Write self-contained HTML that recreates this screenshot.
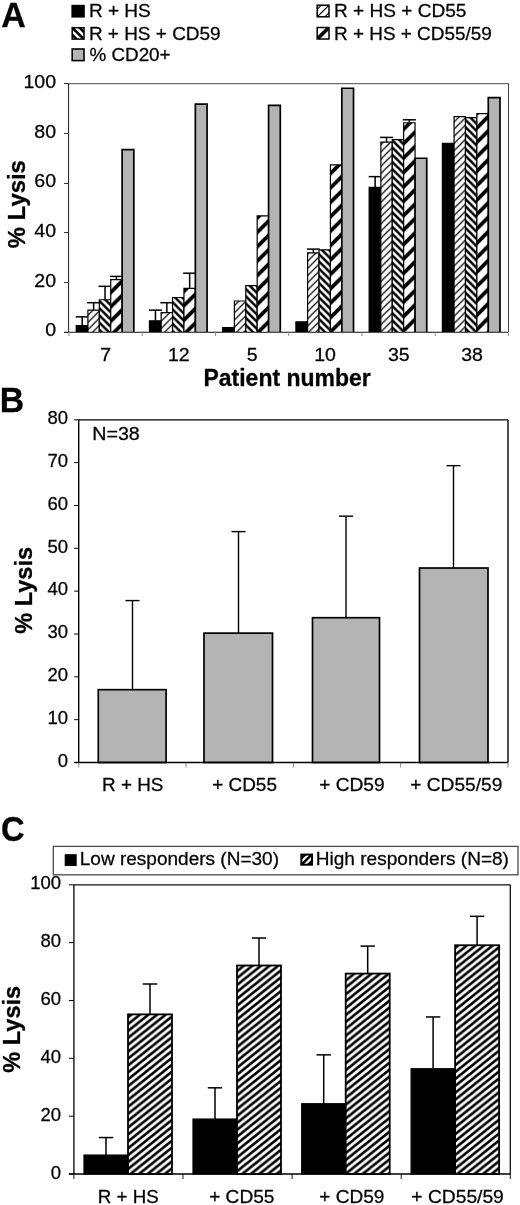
<!DOCTYPE html>
<html lang="en"><head><meta charset="utf-8"><title>Figure</title>
<style>html,body{margin:0;padding:0;background:#fff;}svg{display:block;font-family:'Liberation Sans', Arial, Helvetica, sans-serif;}</style>
</head><body>
<svg width="520" height="1205" viewBox="0 0 520 1205">
<defs>
<pattern id="p55" patternUnits="userSpaceOnUse" width="7.2" height="7.2"><rect width="7.2" height="7.2" fill="#fff"/><path d="M-1.8,1.8 L1.8,-1.8 M-1,8.2 L8.2,-1 M5.4,9 L9,5.4" stroke="#000" stroke-width="1.25" fill="none"/></pattern>
<pattern id="p59" patternUnits="userSpaceOnUse" width="7.2" height="7.2"><rect width="7.2" height="7.2" fill="#fff"/><path d="M-1,-1 L8.2,8.2 M-2.8,4.4 L2.8,10 M4.4,-2.8 L10,2.8" stroke="#000" stroke-width="2.5" fill="none"/></pattern>
<pattern id="p5559" patternUnits="userSpaceOnUse" width="14.4" height="14.4"><rect width="14.4" height="14.4" fill="#fff"/><path d="M-4,4 L4,-4 M-2,16.4 L16.4,-2 M10.4,18.4 L18.4,10.4" stroke="#000" stroke-width="3.8" fill="none"/></pattern>
<pattern id="pC" patternUnits="userSpaceOnUse" width="8.6" height="6.9" x="0.8" y="1.5"><rect width="8.6" height="6.9" fill="#fff"/><path d="M-4.3,3.45 L4.3,-3.45 M-2.15,8.625 L10.75,-1.725 M4.3,10.350000000000001 L12.899999999999999,3.45" stroke="#000" stroke-width="2.55" fill="none"/></pattern>
</defs>
<rect width="520" height="1205" fill="#fff"/>
<rect x="72.00" y="5.40" width="12.20" height="11.60" fill="#000" stroke="#000" stroke-width="1.2"/>
<clipPath id="cl1"><rect x="72.20" y="27.70" width="11.80" height="11.40"/></clipPath>
<rect x="72.20" y="27.70" width="11.80" height="11.40" fill="#fff"/>
<g clip-path="url(#cl1)" stroke="#000" stroke-width="2.6">
<line x1="50.90" y1="13.40" x2="90.90" y2="53.40"/>
<line x1="58.10" y1="13.40" x2="98.10" y2="53.40"/>
<line x1="65.30" y1="13.40" x2="105.30" y2="53.40"/>
</g>
<rect x="72.20" y="27.70" width="11.80" height="11.40" fill="none" stroke="#000" stroke-width="1.5"/>
<rect x="72.20" y="49.00" width="11.80" height="11.60" fill="#b4b4b4" stroke="#000" stroke-width="1.6"/>
<clipPath id="cl2"><rect x="317.20" y="5.20" width="11.80" height="11.60"/></clipPath>
<rect x="317.20" y="5.20" width="11.80" height="11.60" fill="#fff"/>
<g clip-path="url(#cl2)" stroke="#000" stroke-width="1.1">
<line x1="295.50" y1="31.00" x2="335.50" y2="-9.00"/>
<line x1="303.10" y1="31.00" x2="343.10" y2="-9.00"/>
<line x1="310.70" y1="31.00" x2="350.70" y2="-9.00"/>
</g>
<rect x="317.20" y="5.20" width="11.80" height="11.60" fill="none" stroke="#000" stroke-width="1.5"/>
<clipPath id="cl3"><rect x="317.20" y="27.50" width="11.80" height="11.50"/></clipPath>
<rect x="317.20" y="27.50" width="11.80" height="11.50" fill="#fff"/>
<g clip-path="url(#cl3)" stroke="#000" stroke-width="3.6">
<line x1="303.10" y1="53.25" x2="343.10" y2="13.25"/>
</g>
<rect x="317.20" y="27.50" width="11.80" height="11.50" fill="none" stroke="#000" stroke-width="1.5"/>
<line x1="69.00" y1="83.70" x2="509.00" y2="83.70" stroke="#4a4a4a" stroke-width="1.0"/>
<line x1="508.50" y1="83.80" x2="508.50" y2="332.00" stroke="#4a4a4a" stroke-width="1.0"/>
<line x1="82.22" y1="316.86" x2="82.22" y2="325.55" stroke="#000" stroke-width="1.5"/>
<line x1="75.72" y1="316.86" x2="88.72" y2="316.86" stroke="#000" stroke-width="1.5"/>
<line x1="93.62" y1="302.71" x2="93.62" y2="310.16" stroke="#000" stroke-width="1.5"/>
<line x1="87.12" y1="302.71" x2="100.12" y2="302.71" stroke="#000" stroke-width="1.5"/>
<line x1="105.02" y1="286.33" x2="105.02" y2="299.73" stroke="#000" stroke-width="1.5"/>
<line x1="98.52" y1="286.33" x2="111.52" y2="286.33" stroke="#000" stroke-width="1.5"/>
<line x1="116.42" y1="276.40" x2="116.42" y2="279.63" stroke="#000" stroke-width="1.5"/>
<line x1="109.92" y1="276.40" x2="122.92" y2="276.40" stroke="#000" stroke-width="1.5"/>
<rect x="76.22" y="325.55" width="11.70" height="6.45" fill="#000"/>
<path d="M76.22,332.00 L76.22,325.55 L87.92,325.55 L87.92,332.00" fill="none" stroke="#000" stroke-width="1.2"/>
<rect x="87.92" y="310.16" width="11.40" height="21.84" fill="url(#p55)"/>
<path d="M87.92,332.00 L87.92,310.16 L99.32,310.16 L99.32,332.00" fill="none" stroke="#000" stroke-width="1.2"/>
<rect x="99.32" y="299.73" width="11.40" height="32.27" fill="url(#p59)"/>
<path d="M99.32,332.00 L99.32,299.73 L110.72,299.73 L110.72,332.00" fill="none" stroke="#000" stroke-width="1.2"/>
<rect x="110.72" y="279.63" width="11.40" height="52.37" fill="url(#p5559)"/>
<path d="M110.72,332.00 L110.72,279.63 L122.12,279.63 L122.12,332.00" fill="none" stroke="#000" stroke-width="1.2"/>
<rect x="122.12" y="149.57" width="11.70" height="182.43" fill="#b4b4b4"/>
<path d="M122.12,332.00 L122.12,149.57 L133.82,149.57 L133.82,332.00" fill="none" stroke="#000" stroke-width="1.7"/>
<line x1="155.45" y1="310.16" x2="155.45" y2="320.83" stroke="#000" stroke-width="1.5"/>
<line x1="148.95" y1="310.16" x2="161.95" y2="310.16" stroke="#000" stroke-width="1.5"/>
<line x1="166.85" y1="302.71" x2="166.85" y2="312.64" stroke="#000" stroke-width="1.5"/>
<line x1="160.35" y1="302.71" x2="173.35" y2="302.71" stroke="#000" stroke-width="1.5"/>
<line x1="189.65" y1="273.18" x2="189.65" y2="288.32" stroke="#000" stroke-width="1.5"/>
<line x1="183.15" y1="273.18" x2="196.15" y2="273.18" stroke="#000" stroke-width="1.5"/>
<rect x="149.45" y="320.83" width="11.70" height="11.17" fill="#000"/>
<path d="M149.45,332.00 L149.45,320.83 L161.15,320.83 L161.15,332.00" fill="none" stroke="#000" stroke-width="1.2"/>
<rect x="161.15" y="312.64" width="11.40" height="19.36" fill="url(#p55)"/>
<path d="M161.15,332.00 L161.15,312.64 L172.55,312.64 L172.55,332.00" fill="none" stroke="#000" stroke-width="1.2"/>
<rect x="172.55" y="297.50" width="11.40" height="34.50" fill="url(#p59)"/>
<path d="M172.55,332.00 L172.55,297.50 L183.95,297.50 L183.95,332.00" fill="none" stroke="#000" stroke-width="1.2"/>
<rect x="183.95" y="288.32" width="11.40" height="43.68" fill="url(#p5559)"/>
<path d="M183.95,332.00 L183.95,288.32 L195.35,288.32 L195.35,332.00" fill="none" stroke="#000" stroke-width="1.2"/>
<rect x="195.35" y="104.15" width="11.70" height="227.85" fill="#b4b4b4"/>
<path d="M195.35,332.00 L195.35,104.15 L207.05,104.15 L207.05,332.00" fill="none" stroke="#000" stroke-width="1.7"/>
<rect x="222.68" y="327.53" width="11.70" height="4.47" fill="#000"/>
<path d="M222.68,332.00 L222.68,327.53 L234.38,327.53 L234.38,332.00" fill="none" stroke="#000" stroke-width="1.2"/>
<rect x="234.38" y="300.98" width="11.40" height="31.02" fill="url(#p55)"/>
<path d="M234.38,332.00 L234.38,300.98 L245.78,300.98 L245.78,332.00" fill="none" stroke="#000" stroke-width="1.2"/>
<rect x="245.78" y="285.59" width="11.40" height="46.41" fill="url(#p59)"/>
<path d="M245.78,332.00 L245.78,285.59 L257.18,285.59 L257.18,332.00" fill="none" stroke="#000" stroke-width="1.2"/>
<rect x="257.18" y="215.84" width="11.40" height="116.16" fill="url(#p5559)"/>
<path d="M257.18,332.00 L257.18,215.84 L268.58,215.84 L268.58,332.00" fill="none" stroke="#000" stroke-width="1.2"/>
<rect x="268.58" y="105.39" width="11.70" height="226.61" fill="#b4b4b4"/>
<path d="M268.58,332.00 L268.58,105.39 L280.28,105.39 L280.28,332.00" fill="none" stroke="#000" stroke-width="1.7"/>
<line x1="313.32" y1="249.10" x2="313.32" y2="252.82" stroke="#000" stroke-width="1.5"/>
<line x1="306.82" y1="249.10" x2="319.82" y2="249.10" stroke="#000" stroke-width="1.5"/>
<rect x="295.92" y="321.82" width="11.70" height="10.18" fill="#000"/>
<path d="M295.92,332.00 L295.92,321.82 L307.62,321.82 L307.62,332.00" fill="none" stroke="#000" stroke-width="1.2"/>
<rect x="307.62" y="252.82" width="11.40" height="79.18" fill="url(#p55)"/>
<path d="M307.62,332.00 L307.62,252.82 L319.02,252.82 L319.02,332.00" fill="none" stroke="#000" stroke-width="1.2"/>
<rect x="319.02" y="249.85" width="11.40" height="82.15" fill="url(#p59)"/>
<path d="M319.02,332.00 L319.02,249.85 L330.42,249.85 L330.42,332.00" fill="none" stroke="#000" stroke-width="1.2"/>
<rect x="330.42" y="164.96" width="11.40" height="167.04" fill="url(#p5559)"/>
<path d="M330.42,332.00 L330.42,164.96 L341.82,164.96 L341.82,332.00" fill="none" stroke="#000" stroke-width="1.2"/>
<rect x="341.82" y="88.27" width="11.70" height="243.73" fill="#b4b4b4"/>
<path d="M341.82,332.00 L341.82,88.27 L353.52,88.27 L353.52,332.00" fill="none" stroke="#000" stroke-width="1.7"/>
<line x1="375.15" y1="176.63" x2="375.15" y2="187.30" stroke="#000" stroke-width="1.5"/>
<line x1="368.65" y1="176.63" x2="381.65" y2="176.63" stroke="#000" stroke-width="1.5"/>
<line x1="386.55" y1="137.41" x2="386.55" y2="142.13" stroke="#000" stroke-width="1.5"/>
<line x1="380.05" y1="137.41" x2="393.05" y2="137.41" stroke="#000" stroke-width="1.5"/>
<line x1="409.35" y1="119.79" x2="409.35" y2="122.77" stroke="#000" stroke-width="1.5"/>
<line x1="402.85" y1="119.79" x2="415.85" y2="119.79" stroke="#000" stroke-width="1.5"/>
<rect x="369.15" y="187.30" width="11.70" height="144.70" fill="#000"/>
<path d="M369.15,332.00 L369.15,187.30 L380.85,187.30 L380.85,332.00" fill="none" stroke="#000" stroke-width="1.2"/>
<rect x="380.85" y="142.13" width="11.40" height="189.87" fill="url(#p55)"/>
<path d="M380.85,332.00 L380.85,142.13 L392.25,142.13 L392.25,332.00" fill="none" stroke="#000" stroke-width="1.2"/>
<rect x="392.25" y="139.65" width="11.40" height="192.35" fill="url(#p59)"/>
<path d="M392.25,332.00 L392.25,139.65 L403.65,139.65 L403.65,332.00" fill="none" stroke="#000" stroke-width="1.2"/>
<rect x="403.65" y="122.77" width="11.40" height="209.23" fill="url(#p5559)"/>
<path d="M403.65,332.00 L403.65,122.77 L415.05,122.77 L415.05,332.00" fill="none" stroke="#000" stroke-width="1.2"/>
<rect x="415.05" y="158.26" width="11.70" height="173.74" fill="#b4b4b4"/>
<path d="M415.05,332.00 L415.05,158.26 L426.75,158.26 L426.75,332.00" fill="none" stroke="#000" stroke-width="1.7"/>
<rect x="442.38" y="143.37" width="11.70" height="188.63" fill="#000"/>
<path d="M442.38,332.00 L442.38,143.37 L454.08,143.37 L454.08,332.00" fill="none" stroke="#000" stroke-width="1.2"/>
<rect x="454.08" y="116.56" width="11.40" height="215.44" fill="url(#p55)"/>
<path d="M454.08,332.00 L454.08,116.56 L465.48,116.56 L465.48,332.00" fill="none" stroke="#000" stroke-width="1.2"/>
<rect x="465.48" y="117.56" width="11.40" height="214.44" fill="url(#p59)"/>
<path d="M465.48,332.00 L465.48,117.56 L476.88,117.56 L476.88,332.00" fill="none" stroke="#000" stroke-width="1.2"/>
<rect x="476.88" y="113.58" width="11.40" height="218.42" fill="url(#p5559)"/>
<path d="M476.88,332.00 L476.88,113.58 L488.28,113.58 L488.28,332.00" fill="none" stroke="#000" stroke-width="1.2"/>
<rect x="488.28" y="97.70" width="11.70" height="234.30" fill="#b4b4b4"/>
<path d="M488.28,332.00 L488.28,97.70 L499.98,97.70 L499.98,332.00" fill="none" stroke="#000" stroke-width="1.7"/>
<line x1="68.60" y1="83.80" x2="68.60" y2="332.00" stroke="#1a1a1a" stroke-width="1.0"/>
<line x1="64.00" y1="332.30" x2="508.40" y2="332.30" stroke="#111" stroke-width="1.1"/>
<line x1="64.00" y1="332.50" x2="69.00" y2="332.50" stroke="#333" stroke-width="1.0"/>
<line x1="64.00" y1="282.50" x2="69.00" y2="282.50" stroke="#333" stroke-width="1.0"/>
<line x1="64.00" y1="232.50" x2="69.00" y2="232.50" stroke="#333" stroke-width="1.0"/>
<line x1="64.00" y1="183.50" x2="69.00" y2="183.50" stroke="#333" stroke-width="1.0"/>
<line x1="64.00" y1="133.50" x2="69.00" y2="133.50" stroke="#333" stroke-width="1.0"/>
<line x1="64.00" y1="83.50" x2="69.00" y2="83.50" stroke="#333" stroke-width="1.0"/>
<line x1="69.00" y1="332.00" x2="69.00" y2="336.00" stroke="#777" stroke-width="0.8"/>
<line x1="142.23" y1="332.00" x2="142.23" y2="336.00" stroke="#777" stroke-width="0.8"/>
<line x1="215.47" y1="332.00" x2="215.47" y2="336.00" stroke="#777" stroke-width="0.8"/>
<line x1="288.70" y1="332.00" x2="288.70" y2="336.00" stroke="#777" stroke-width="0.8"/>
<line x1="361.93" y1="332.00" x2="361.93" y2="336.00" stroke="#777" stroke-width="0.8"/>
<line x1="435.17" y1="332.00" x2="435.17" y2="336.00" stroke="#777" stroke-width="0.8"/>
<line x1="508.40" y1="332.00" x2="508.40" y2="336.00" stroke="#777" stroke-width="0.8"/>
<line x1="78.70" y1="419.80" x2="508.00" y2="419.80" stroke="#000" stroke-width="1.3"/>
<line x1="508.00" y1="419.80" x2="508.00" y2="762.50" stroke="#000" stroke-width="1.4"/>
<line x1="132.50" y1="600.57" x2="132.50" y2="689.68" stroke="#000" stroke-width="1.4"/>
<line x1="125.50" y1="600.57" x2="139.50" y2="600.57" stroke="#000" stroke-width="1.4"/>
<rect x="98.30" y="689.68" width="67.80" height="72.82" fill="#b4b4b4" stroke="#000" stroke-width="1.7"/>
<line x1="238.50" y1="531.61" x2="238.50" y2="633.13" stroke="#000" stroke-width="1.4"/>
<line x1="231.50" y1="531.61" x2="245.50" y2="531.61" stroke="#000" stroke-width="1.4"/>
<rect x="204.00" y="633.13" width="68.50" height="129.37" fill="#b4b4b4" stroke="#000" stroke-width="1.7"/>
<line x1="346.00" y1="516.18" x2="346.00" y2="617.71" stroke="#000" stroke-width="1.4"/>
<line x1="339.00" y1="516.18" x2="353.00" y2="516.18" stroke="#000" stroke-width="1.4"/>
<rect x="312.50" y="617.71" width="67.00" height="144.79" fill="#b4b4b4" stroke="#000" stroke-width="1.7"/>
<line x1="453.50" y1="465.64" x2="453.50" y2="568.02" stroke="#000" stroke-width="1.4"/>
<line x1="446.50" y1="465.64" x2="460.50" y2="465.64" stroke="#000" stroke-width="1.4"/>
<rect x="419.50" y="568.02" width="68.50" height="194.48" fill="#b4b4b4" stroke="#000" stroke-width="1.7"/>
<line x1="78.70" y1="419.80" x2="78.70" y2="762.50" stroke="#000" stroke-width="1.4"/>
<line x1="74.20" y1="762.50" x2="508.00" y2="762.50" stroke="#000" stroke-width="1.6"/>
<line x1="74.20" y1="762.50" x2="78.70" y2="762.50" stroke="#000" stroke-width="1.0"/>
<line x1="74.20" y1="719.66" x2="78.70" y2="719.66" stroke="#000" stroke-width="1.0"/>
<line x1="74.20" y1="676.83" x2="78.70" y2="676.83" stroke="#000" stroke-width="1.0"/>
<line x1="74.20" y1="633.99" x2="78.70" y2="633.99" stroke="#000" stroke-width="1.0"/>
<line x1="74.20" y1="591.15" x2="78.70" y2="591.15" stroke="#000" stroke-width="1.0"/>
<line x1="74.20" y1="548.31" x2="78.70" y2="548.31" stroke="#000" stroke-width="1.0"/>
<line x1="74.20" y1="505.48" x2="78.70" y2="505.48" stroke="#000" stroke-width="1.0"/>
<line x1="74.20" y1="462.64" x2="78.70" y2="462.64" stroke="#000" stroke-width="1.0"/>
<line x1="74.20" y1="419.80" x2="78.70" y2="419.80" stroke="#000" stroke-width="1.0"/>
<line x1="78.70" y1="762.50" x2="78.70" y2="767.50" stroke="#666" stroke-width="0.8"/>
<line x1="186.03" y1="762.50" x2="186.03" y2="767.50" stroke="#666" stroke-width="0.8"/>
<line x1="293.35" y1="762.50" x2="293.35" y2="767.50" stroke="#666" stroke-width="0.8"/>
<line x1="400.68" y1="762.50" x2="400.68" y2="767.50" stroke="#666" stroke-width="0.8"/>
<line x1="508.00" y1="762.50" x2="508.00" y2="767.50" stroke="#666" stroke-width="0.8"/>
<rect x="53.3" y="846.4" width="464.7" height="28.4" fill="#fff" stroke="#4a4a4a" stroke-width="1.3"/>
<rect x="65.30" y="854.80" width="10.80" height="10.60" fill="#000" stroke="#000" stroke-width="1.2"/>
<clipPath id="cl4"><rect x="301.30" y="854.60" width="10.70" height="10.10"/></clipPath>
<rect x="301.30" y="854.60" width="10.70" height="10.10" fill="#fff"/>
<g clip-path="url(#cl4)" stroke="#000" stroke-width="2.5">
<line x1="280.05" y1="879.65" x2="320.05" y2="839.65"/>
<line x1="286.65" y1="879.65" x2="326.65" y2="839.65"/>
<line x1="293.25" y1="879.65" x2="333.25" y2="839.65"/>
</g>
<rect x="301.30" y="854.60" width="10.70" height="10.10" fill="none" stroke="#000" stroke-width="2.0"/>
<line x1="73.90" y1="884.80" x2="510.30" y2="884.80" stroke="#111" stroke-width="1.3"/>
<line x1="510.30" y1="884.80" x2="510.30" y2="1174.00" stroke="#111" stroke-width="1.3"/>
<line x1="106.00" y1="1137.56" x2="106.00" y2="1155.06" stroke="#000" stroke-width="1.5"/>
<line x1="98.80" y1="1137.56" x2="113.20" y2="1137.56" stroke="#000" stroke-width="1.5"/>
<line x1="150.00" y1="984.00" x2="150.00" y2="1014.36" stroke="#000" stroke-width="1.5"/>
<line x1="142.80" y1="984.00" x2="157.20" y2="984.00" stroke="#000" stroke-width="1.5"/>
<rect x="84.00" y="1155.06" width="44.00" height="18.94" fill="#000" stroke="#000" stroke-width="1.2"/>
<rect x="128.00" y="1014.36" width="44.00" height="159.64" fill="url(#pC)" stroke="#000" stroke-width="1.8"/>
<line x1="215.00" y1="1087.82" x2="215.00" y2="1119.05" stroke="#000" stroke-width="1.5"/>
<line x1="207.80" y1="1087.82" x2="222.20" y2="1087.82" stroke="#000" stroke-width="1.5"/>
<line x1="259.00" y1="938.01" x2="259.00" y2="965.49" stroke="#000" stroke-width="1.5"/>
<line x1="251.80" y1="938.01" x2="266.20" y2="938.01" stroke="#000" stroke-width="1.5"/>
<rect x="193.00" y="1119.05" width="44.00" height="54.95" fill="#000" stroke="#000" stroke-width="1.2"/>
<rect x="237.00" y="965.49" width="44.00" height="208.51" fill="url(#pC)" stroke="#000" stroke-width="1.8"/>
<line x1="323.70" y1="1054.85" x2="323.70" y2="1103.72" stroke="#000" stroke-width="1.5"/>
<line x1="316.50" y1="1054.85" x2="330.90" y2="1054.85" stroke="#000" stroke-width="1.5"/>
<line x1="367.70" y1="946.11" x2="367.70" y2="973.58" stroke="#000" stroke-width="1.5"/>
<line x1="360.50" y1="946.11" x2="374.90" y2="946.11" stroke="#000" stroke-width="1.5"/>
<rect x="301.70" y="1103.72" width="44.00" height="70.28" fill="#000" stroke="#000" stroke-width="1.2"/>
<rect x="345.70" y="973.58" width="44.00" height="200.42" fill="url(#pC)" stroke="#000" stroke-width="1.8"/>
<line x1="433.10" y1="1016.96" x2="433.10" y2="1068.73" stroke="#000" stroke-width="1.5"/>
<line x1="425.90" y1="1016.96" x2="440.30" y2="1016.96" stroke="#000" stroke-width="1.5"/>
<line x1="477.10" y1="916.32" x2="477.10" y2="945.24" stroke="#000" stroke-width="1.5"/>
<line x1="469.90" y1="916.32" x2="484.30" y2="916.32" stroke="#000" stroke-width="1.5"/>
<rect x="411.10" y="1068.73" width="44.00" height="105.27" fill="#000" stroke="#000" stroke-width="1.2"/>
<rect x="455.10" y="945.24" width="44.00" height="228.76" fill="url(#pC)" stroke="#000" stroke-width="1.8"/>
<line x1="73.90" y1="884.80" x2="73.90" y2="1174.00" stroke="#000" stroke-width="1.3"/>
<line x1="68.90" y1="1174.00" x2="510.30" y2="1174.00" stroke="#000" stroke-width="1.3"/>
<line x1="68.90" y1="1174.00" x2="73.90" y2="1174.00" stroke="#000" stroke-width="1.0"/>
<line x1="68.90" y1="1116.16" x2="73.90" y2="1116.16" stroke="#000" stroke-width="1.0"/>
<line x1="68.90" y1="1058.32" x2="73.90" y2="1058.32" stroke="#000" stroke-width="1.0"/>
<line x1="68.90" y1="1000.48" x2="73.90" y2="1000.48" stroke="#000" stroke-width="1.0"/>
<line x1="68.90" y1="942.64" x2="73.90" y2="942.64" stroke="#000" stroke-width="1.0"/>
<line x1="68.90" y1="884.80" x2="73.90" y2="884.80" stroke="#000" stroke-width="1.0"/>
<line x1="73.90" y1="1174.00" x2="73.90" y2="1179.00" stroke="#000" stroke-width="0.9"/>
<line x1="183.00" y1="1174.00" x2="183.00" y2="1179.00" stroke="#000" stroke-width="0.9"/>
<line x1="292.10" y1="1174.00" x2="292.10" y2="1179.00" stroke="#000" stroke-width="0.9"/>
<line x1="401.20" y1="1174.00" x2="401.20" y2="1179.00" stroke="#000" stroke-width="0.9"/>
<line x1="510.30" y1="1174.00" x2="510.30" y2="1179.00" stroke="#000" stroke-width="0.9"/>
<g opacity="0.999">
<text transform="translate(1.22 27.40) scale(0.9569 1)" font-size="35.5" font-weight="bold" stroke="#000" stroke-width="0.3" stroke-linejoin="round">A</text>
<text transform="translate(88.88 17.30) scale(1.0132 1)" font-size="18.8" stroke="#000" stroke-width="0.28" stroke-linejoin="round">R + HS</text>
<text transform="translate(88.88 39.60) scale(1.0091 1)" font-size="18.8" stroke="#000" stroke-width="0.28" stroke-linejoin="round">R + HS + CD59</text>
<text transform="translate(89.54 61.30) scale(1.0012 1)" font-size="18.8" stroke="#000" stroke-width="0.28" stroke-linejoin="round">% CD20+</text>
<text transform="translate(333.98 17.40) scale(1.0138 1)" font-size="18.8" stroke="#000" stroke-width="0.28" stroke-linejoin="round">R + HS + CD55</text>
<text transform="translate(333.99 39.70) scale(1.0073 1)" font-size="18.8" stroke="#000" stroke-width="0.28" stroke-linejoin="round">R + HS + CD55/59</text>
<text transform="translate(45.23 336.20) scale(1.0400 1)" font-size="18.8" stroke="#000" stroke-width="0.28" stroke-linejoin="round">0</text>
<text transform="translate(34.36 286.56) scale(1.0400 1)" font-size="18.8" stroke="#000" stroke-width="0.28" stroke-linejoin="round">20</text>
<text transform="translate(34.36 236.92) scale(1.0400 1)" font-size="18.8" stroke="#000" stroke-width="0.28" stroke-linejoin="round">40</text>
<text transform="translate(34.36 187.28) scale(1.0400 1)" font-size="18.8" stroke="#000" stroke-width="0.28" stroke-linejoin="round">60</text>
<text transform="translate(34.36 137.64) scale(1.0400 1)" font-size="18.8" stroke="#000" stroke-width="0.28" stroke-linejoin="round">80</text>
<text transform="translate(23.49 88.00) scale(1.0400 1)" font-size="18.8" stroke="#000" stroke-width="0.28" stroke-linejoin="round">100</text>
<text transform="translate(100.34 361.30) scale(1.0400 1)" font-size="18.8" stroke="#000" stroke-width="0.28" stroke-linejoin="round">7</text>
<text transform="translate(167.89 361.30) scale(1.0400 1)" font-size="18.8" stroke="#000" stroke-width="0.28" stroke-linejoin="round">12</text>
<text transform="translate(246.86 361.30) scale(1.0400 1)" font-size="18.8" stroke="#000" stroke-width="0.28" stroke-linejoin="round">5</text>
<text transform="translate(314.26 361.30) scale(1.0400 1)" font-size="18.8" stroke="#000" stroke-width="0.28" stroke-linejoin="round">10</text>
<text transform="translate(387.94 361.30) scale(1.0400 1)" font-size="18.8" stroke="#000" stroke-width="0.28" stroke-linejoin="round">35</text>
<text transform="translate(461.17 361.30) scale(1.0400 1)" font-size="18.8" stroke="#000" stroke-width="0.28" stroke-linejoin="round">38</text>
<text transform="translate(203.51 385.80) scale(0.9653 1)" font-size="23.8" font-weight="bold" stroke="#000" stroke-width="0.3" stroke-linejoin="round">Patient number</text>
<text transform="translate(24.90 248.18) rotate(-90) scale(0.9961 1)" font-size="24" font-weight="bold" stroke="#000" stroke-width="0.3" stroke-linejoin="round">% Lysis</text>
<text transform="translate(-0.30 411.70) scale(0.9447 1)" font-size="35.8" font-weight="bold" stroke="#000" stroke-width="0.3" stroke-linejoin="round">B</text>
<text transform="translate(57.68 766.70) scale(1.0000 1)" font-size="18.5" stroke="#000" stroke-width="0.28" stroke-linejoin="round">0</text>
<text transform="translate(47.39 723.86) scale(1.0000 1)" font-size="18.5" stroke="#000" stroke-width="0.28" stroke-linejoin="round">10</text>
<text transform="translate(47.39 681.03) scale(1.0000 1)" font-size="18.5" stroke="#000" stroke-width="0.28" stroke-linejoin="round">20</text>
<text transform="translate(47.39 638.19) scale(1.0000 1)" font-size="18.5" stroke="#000" stroke-width="0.28" stroke-linejoin="round">30</text>
<text transform="translate(47.39 595.35) scale(1.0000 1)" font-size="18.5" stroke="#000" stroke-width="0.28" stroke-linejoin="round">40</text>
<text transform="translate(47.39 552.51) scale(1.0000 1)" font-size="18.5" stroke="#000" stroke-width="0.28" stroke-linejoin="round">50</text>
<text transform="translate(47.39 509.68) scale(1.0000 1)" font-size="18.5" stroke="#000" stroke-width="0.28" stroke-linejoin="round">60</text>
<text transform="translate(47.39 466.84) scale(1.0000 1)" font-size="18.5" stroke="#000" stroke-width="0.28" stroke-linejoin="round">70</text>
<text transform="translate(47.39 424.00) scale(1.0000 1)" font-size="18.5" stroke="#000" stroke-width="0.28" stroke-linejoin="round">80</text>
<text transform="translate(92.23 440.20) scale(1.0355 1)" font-size="19" stroke="#000" stroke-width="0.28" stroke-linejoin="round">N=38</text>
<text transform="translate(101.99 791.40) scale(0.9958 1)" font-size="19" stroke="#000" stroke-width="0.28" stroke-linejoin="round">R + HS</text>
<text transform="translate(212.15 791.40) scale(0.9982 1)" font-size="19" stroke="#000" stroke-width="0.28" stroke-linejoin="round">+ CD55</text>
<text transform="translate(319.14 791.40) scale(1.0076 1)" font-size="19" stroke="#000" stroke-width="0.28" stroke-linejoin="round">+ CD59</text>
<text transform="translate(410.24 791.40) scale(1.0097 1)" font-size="19" stroke="#000" stroke-width="0.28" stroke-linejoin="round">+ CD55/59</text>
<text transform="translate(31.50 633.87) rotate(-90) scale(0.9835 1)" font-size="24" font-weight="bold" stroke="#000" stroke-width="0.3" stroke-linejoin="round">% Lysis</text>
<text transform="translate(0.99 840.50) scale(0.9126 1)" font-size="35.8" font-weight="bold" stroke="#000" stroke-width="0.3" stroke-linejoin="round">C</text>
<text transform="translate(79.78 865.30) scale(1.0013 1)" font-size="19" stroke="#000" stroke-width="0.28" stroke-linejoin="round">Low responders (N=30)</text>
<text transform="translate(315.78 865.30) scale(1.0031 1)" font-size="19" stroke="#000" stroke-width="0.28" stroke-linejoin="round">High responders (N=8)</text>
<text transform="translate(50.78 1178.50) scale(1.0000 1)" font-size="18.5" stroke="#000" stroke-width="0.28" stroke-linejoin="round">0</text>
<text transform="translate(40.49 1120.66) scale(1.0000 1)" font-size="18.5" stroke="#000" stroke-width="0.28" stroke-linejoin="round">20</text>
<text transform="translate(40.49 1062.82) scale(1.0000 1)" font-size="18.5" stroke="#000" stroke-width="0.28" stroke-linejoin="round">40</text>
<text transform="translate(40.49 1004.98) scale(1.0000 1)" font-size="18.5" stroke="#000" stroke-width="0.28" stroke-linejoin="round">60</text>
<text transform="translate(40.49 947.14) scale(1.0000 1)" font-size="18.5" stroke="#000" stroke-width="0.28" stroke-linejoin="round">80</text>
<text transform="translate(30.20 889.30) scale(1.0000 1)" font-size="18.5" stroke="#000" stroke-width="0.28" stroke-linejoin="round">100</text>
<text transform="translate(97.80 1202.60) scale(0.9874 1)" font-size="19" stroke="#000" stroke-width="0.28" stroke-linejoin="round">R + HS</text>
<text transform="translate(209.14 1202.60) scale(1.0061 1)" font-size="19" stroke="#000" stroke-width="0.28" stroke-linejoin="round">+ CD55</text>
<text transform="translate(319.24 1202.60) scale(1.0029 1)" font-size="19" stroke="#000" stroke-width="0.28" stroke-linejoin="round">+ CD59</text>
<text transform="translate(411.33 1202.60) scale(1.0130 1)" font-size="19" stroke="#000" stroke-width="0.28" stroke-linejoin="round">+ CD55/59</text>
<text transform="translate(19.70 1072.77) rotate(-90) scale(0.9835 1)" font-size="24" font-weight="bold" stroke="#000" stroke-width="0.3" stroke-linejoin="round">% Lysis</text>
</g>
</svg></body></html>
